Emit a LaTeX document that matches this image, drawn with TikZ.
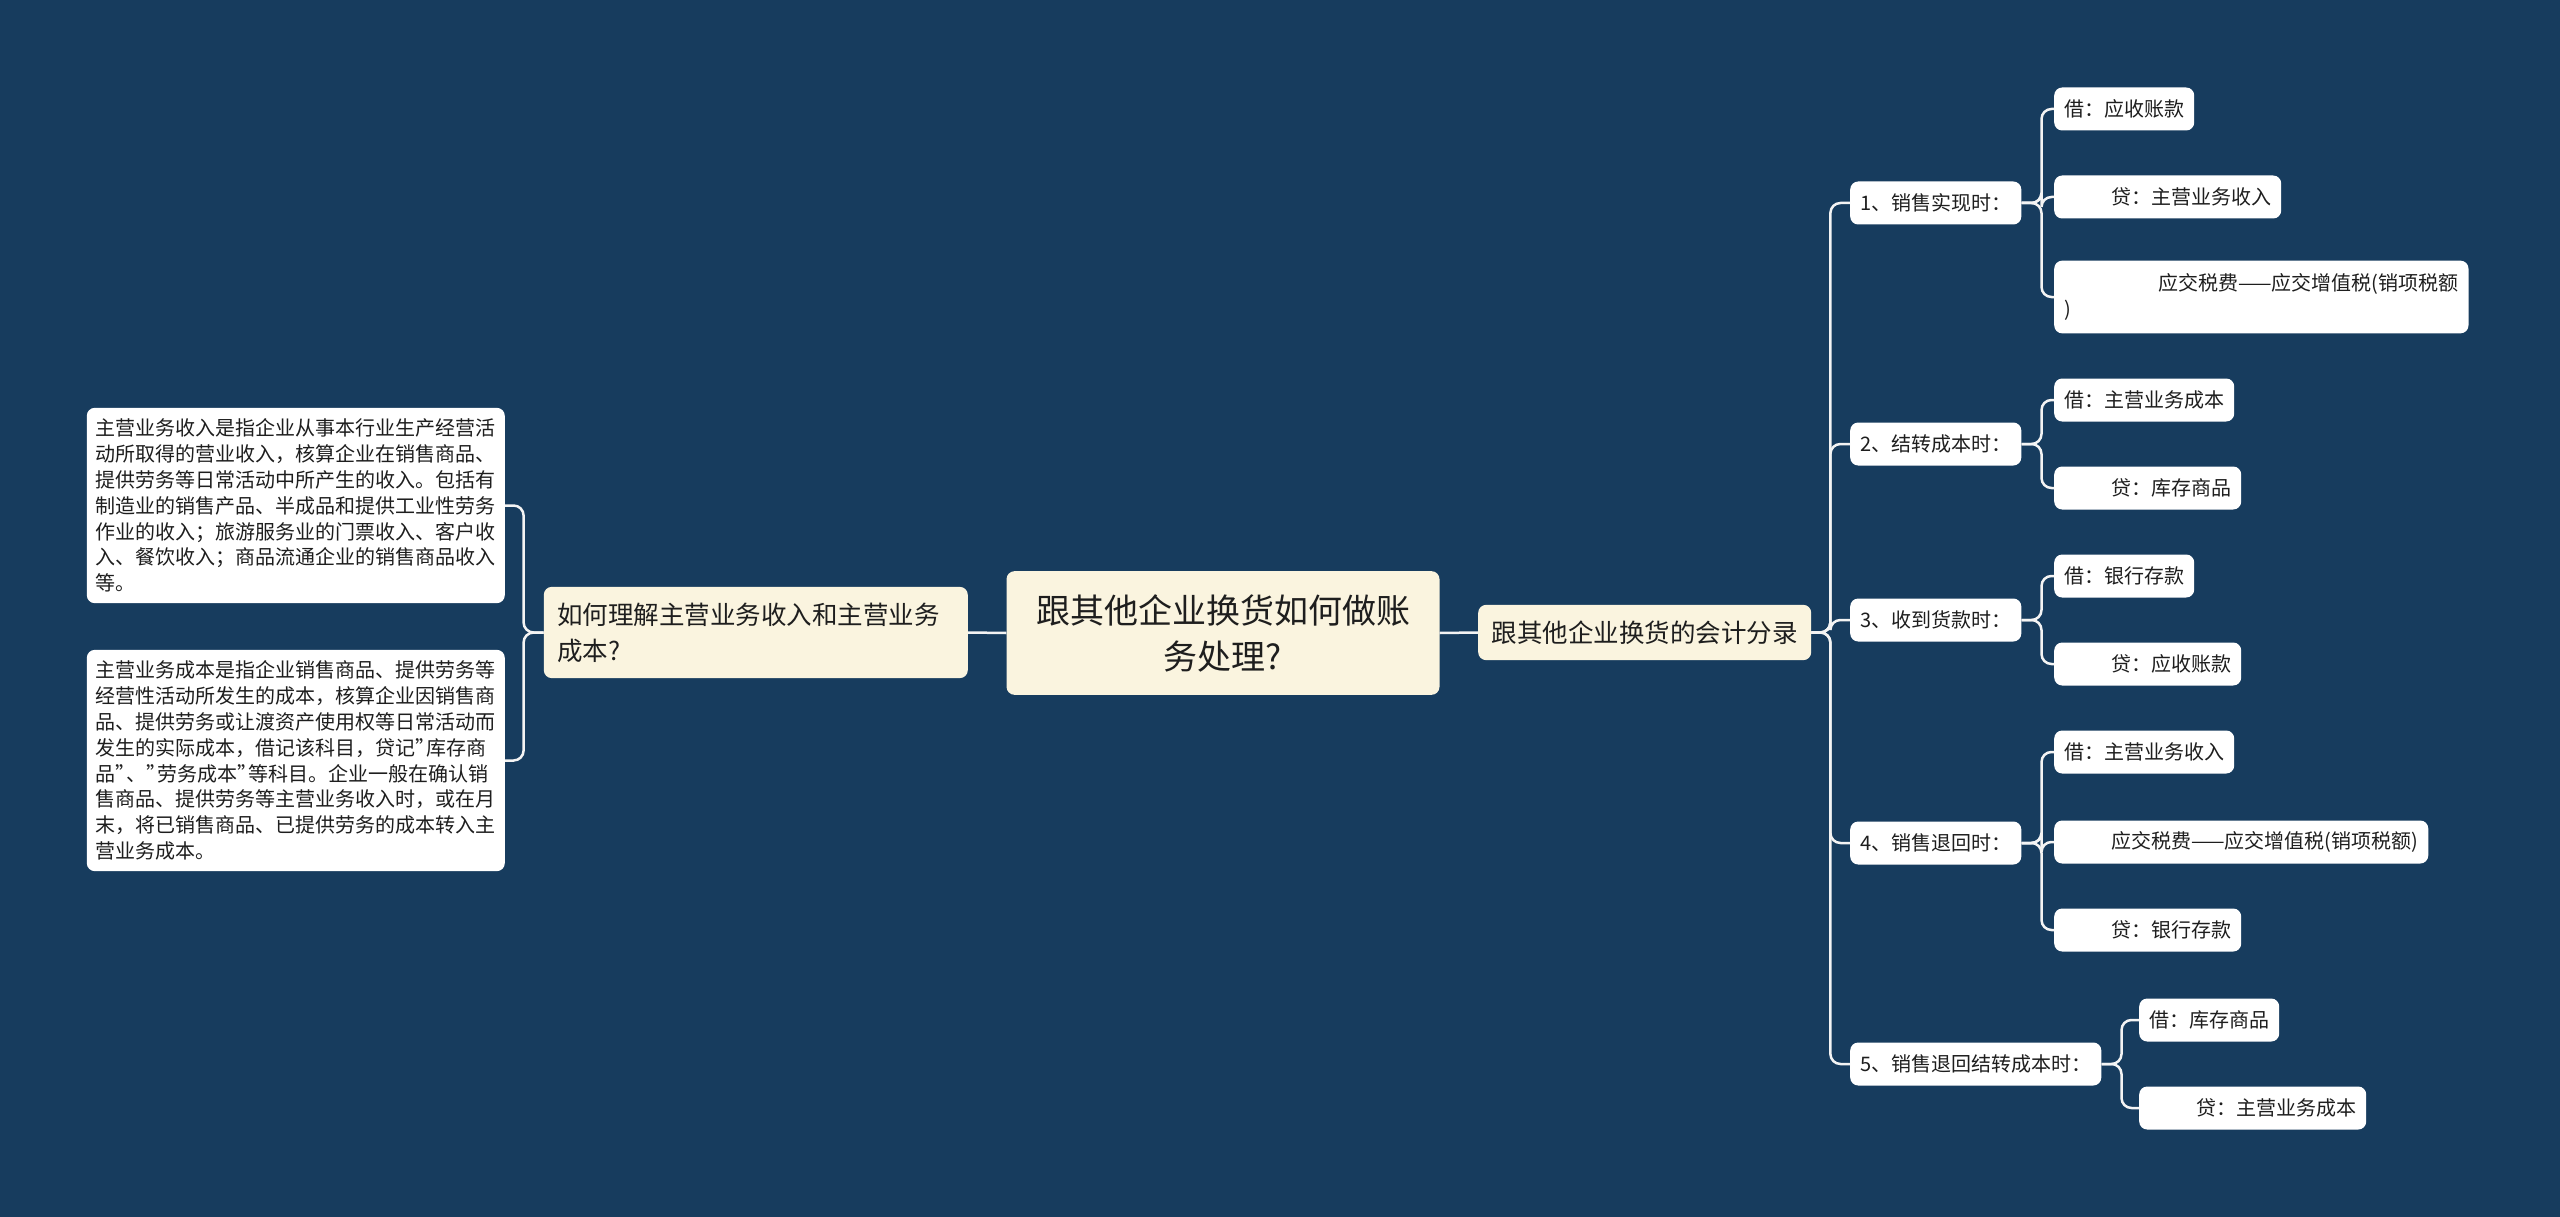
\documentclass[tikz,border=0pt]{standalone}
\usepackage{fontspec}
\setmainfont{Noto Sans CJK SC}
\usepackage{tikz}

\definecolor{nen}{HTML}{173C5E}
\definecolor{kem}{HTML}{FAF4DF}
\definecolor{trang}{HTML}{FFFFFF}
\definecolor{chu}{HTML}{1E1E1E}
\definecolor{duong}{HTML}{F4F4F4}
\newcommand{\dem}{\hspace*{47pt}}
\newcommand{\nhay}{\makebox[11pt][l]{”}}

\begin{document}
\begin{tikzpicture}[x=1pt, y=-1pt,
    hop/.style={fill=#1, rounded corners=8pt, text=chu},
    goc/.style={hop=kem, font=\fontsize{34}{46}\selectfont, align=center, inner xsep=29.5pt, inner ysep=23pt},
    nhanh/.style={hop=kem, font=\fontsize{25.5}{36}\selectfont, align=left, inner xsep=13.5pt, inner ysep=15.8pt},
    la/.style={hop=trang, font=\fontsize{20}{25.8}\selectfont, align=left, inner xsep=10pt, inner ysep=11pt, minimum height=43pt},
    doan/.style={la, inner xsep=9pt},
    noi/.style={draw=duong, line width=2.5pt, rounded corners=10pt}]
        % Nền
        \fill[nen] (0,0) rectangle (2560,1217);

        % Nút trung tâm và hai nhánh chính
        \node[goc] (c) at (1223, 633) {跟其他企业换货如何做账\\务处理?};
        \node[nhanh, text width=397pt, anchor=east] (l) at (968, 632.5) {如何理解主营业务收入和主营业务\\成本?};
        \node[nhanh, anchor=west] (r) at (1478, 632.5) {跟其他企业换货的会计分录};

        \draw[noi] (c.west) -- (l.west -| l.east);
        \draw[noi] (c.east) -- (r.west);

        % Nhánh trái
        \node[doan, anchor=east] (l1) at (505, 505.5) {主营业务收入是指企业从事本行业生产经营活\\动所取得的营业收入，核算企业在销售商品、\\提供劳务等日常活动中所产生的收入。包括有\\制造业的销售产品、半成品和提供工业性劳务\\作业的收入；旅游服务业的门票收入、客户收\\入、餐饮收入；商品流通企业的销售商品收入\\等。};
        \node[doan, anchor=east] (l2) at (505, 760.5) {主营业务成本是指企业销售商品、提供劳务等\\经营性活动所发生的成本，核算企业因销售商\\品、提供劳务或让渡资产使用权等日常活动而\\发生的实际成本，借记该科目，贷记\nhay 库存商\\品\nhay 、\nhay 劳务成本\nhay 等科目。企业一般在确认销\\售商品、提供劳务等主营业务收入时，或在月\\末，将已销售商品、已提供劳务的成本转入主\\营业务成本。};

        \draw[noi] (l.west) -- ++(-20,0) |- (l1.east);
        \draw[noi] (l.west) -- ++(-20,0) |- (l2.east);

        % Nhánh phải: các bước
        \node[la, anchor=west] (s1) at (1850, 203) {1、销售实现时：};
        \node[la, anchor=west] (s2) at (1850, 444) {2、结转成本时：};
        \node[la, anchor=west] (s3) at (1850, 620) {3、收到货款时：};
        \node[la, anchor=west] (s4) at (1850, 843) {4、销售退回时：};
        \node[la, anchor=west] (s5) at (1850, 1064) {5、销售退回结转成本时：};

        \foreach \s in {s1, s2, s3, s4, s5}
            \draw[noi] (r.east) -- ++(19,0) |- (\s.west);

        % Bút toán từng bước
        \node[la, anchor=west] (s1a) at (2054, 109) {借：应收账款};
        \node[la, anchor=west] (s1b) at (2054, 197) {\dem 贷：主营业务收入};
        \node[la, anchor=west, inner ysep=13pt] (s1c) at (2054, 297) {\dem\dem 应交税费——应交增值税(销项税额\\)};

        \node[la, anchor=west] (s2a) at (2054, 400) {借：主营业务成本};
        \node[la, anchor=west] (s2b) at (2054, 488) {\dem 贷：库存商品};

        \node[la, anchor=west] (s3a) at (2054, 576) {借：银行存款};
        \node[la, anchor=west] (s3b) at (2054, 664) {\dem 贷：应收账款};

        \node[la, anchor=west] (s4a) at (2054, 752) {借：主营业务收入};
        \node[la, anchor=west] (s4b) at (2054, 842) {\dem 应交税费——应交增值税(销项税额)};
        \node[la, anchor=west] (s4c) at (2054, 930) {\dem 贷：银行存款};

        \node[la, anchor=west] (s5a) at (2139, 1020) {借：库存商品};
        \node[la, anchor=west] (s5b) at (2139, 1108) {\dem 贷：主营业务成本};

        \foreach \s/\t in {s1/s1a, s1/s1b, s1/s1c, s2/s2a, s2/s2b, s3/s3a, s3/s3b, s4/s4a, s4/s4b, s4/s4c, s5/s5a, s5/s5b}
            \draw[noi] (\s.east) -- ++(20,0) |- (\t.west);
    \end{tikzpicture}
\end{document}
